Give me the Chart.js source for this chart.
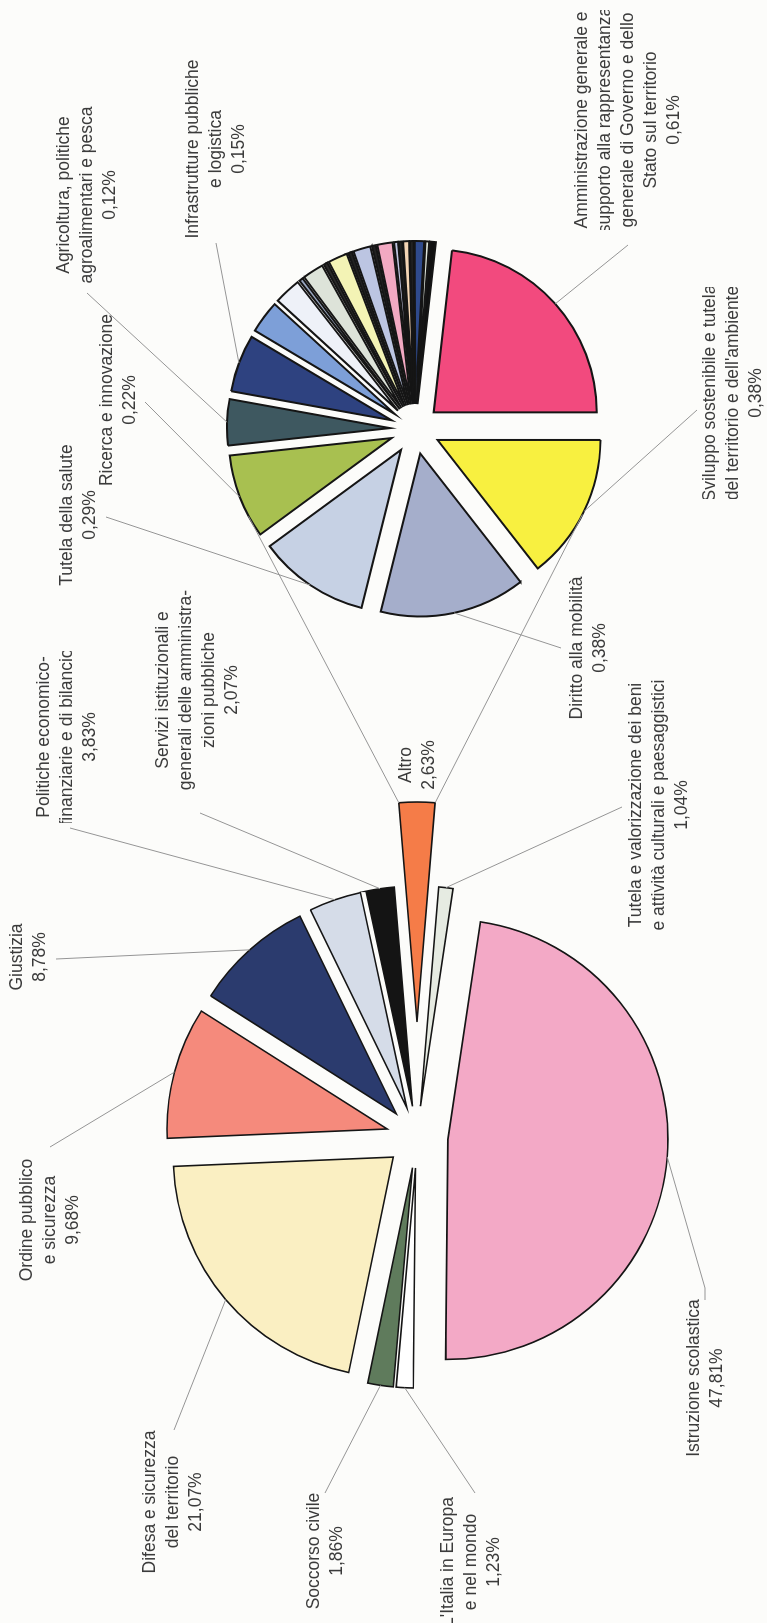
<!DOCTYPE html>
<html lang="it">
<head>
  <meta charset="UTF-8">
  <title>Ripartizione della spesa per missioni</title>
  <script src="https://cdn.jsdelivr.net/npm/chart.js"></script>
  <style>
    html, body { margin: 0; padding: 0; background: #fcfcfa; }
    body { width: 767px; height: 1623px; overflow: hidden; position: relative; }
    /* il grafico originale e' ruotato di 90 gradi */
    #frame {
      position: absolute; left: 0; top: 0;
      width: 1623px; height: 767px;
      transform-origin: 0 0;
      transform: translate(0, 1623px) rotate(-90deg);
    }
    #frame canvas { position: absolute; left: 0; top: 0; }
  </style>
</head>
<body>
<div id="frame">
  <canvas id="torta" width="1623" height="767"></canvas>
  <canvas id="altro" width="1623" height="767"></canvas>
</div>

<script>
  // torta principale (valori in %)
  const mainLabels = [
    ['Altro'],
    ['Tutela e valorizzazione dei beni', 'e attività culturali e paesaggistici'],
    ['Istruzione scolastica'],
    ["L'Italia in Europa", 'e nel mondo'],
    ['Soccorso civile'],
    ['Difesa e sicurezza', 'del territorio'],
    ['Ordine pubblico', 'e sicurezza'],
    ['Giustizia'],
    ['Politiche economico-', 'finanziarie e di bilancio'],
    ['Servizi istituzionali e', 'generali delle amministra-', 'zioni pubbliche']
  ];
  const mainValues = [2.63, 1.04, 47.81, 1.23, 1.86, 21.07, 9.68, 8.78, 3.83, 2.07];

  // dettaglio della fetta "Altro" (le fette piccole non hanno etichetta)
  const altroLabels = [
    ['Amministrazione generale e', 'supporto alla rappresentanza', 'generale di Governo e dello', 'Stato sul territorio'],
    ['Sviluppo sostenibile e tutela', "del territorio e dell'ambiente"],
    ['Diritto alla mobilità'],
    ['Tutela della salute'],
    ['Ricerca e innovazione'],
    ['Agricoltura, politiche', 'agroalimentari e pesca'],
    ['Infrastrutture pubbliche', 'e logistica'],
    [], [], [], [], [], [], [], [], [], [], [], [], [], [], [], [], []
  ];
  const altroValues = [0.61, 0.38, 0.38, 0.29, 0.22, 0.12, 0.15,
    0.085, 0.07, 0.01, 0.055, 0.01, 0.05, 0.01, 0.045, 0.01, 0.04, 0.01, 0.01, 0.015, 0.01, 0.025, 0.01, 0.015];

  const mainColors = ['#f57c48', '#e6ebe2', '#f3a9c6', '#ffffff', '#5f7b5c',
    '#faefc2', '#f58a7c', '#2b3b6e', '#d5dce8', '#141414'];
  const altroColors = ['#f24a7e', '#f8f040', '#a5aecb', '#c6d1e4', '#a8c050', '#3e5860', '#2e4280',
    '#7d9fd8', '#eef1f8', '#9aa7c0', '#dde3d9', '#2b2b2b', '#f3f3b5', '#222222', '#bcc5e2', '#222222',
    '#f2a9c2', '#c0c4e0', '#222222', '#f4d5b5', '#222222', '#2f4a8c', '#dfe6dd', '#111111'];

  // distanza di esplosione delle fette
  const mainDist = mainValues.map((v, i) => i === 0 ? 115 : 31);
  const altroDist = altroValues.map(() => 25);

  const FONT = '17.5px "Liberation Sans", Arial, sans-serif';
  const LINE = 23;
  const TEXT = '#3b3b3b';
  const LEADER = '#959595';

  // posizione delle etichette (x = centro riga, y = prima riga; ax/ay = inizio linea guida)
  const mainPos = [
    { x: 858, y: 406 },
    { x: 818, y: 636, ax: 816, ay: 622 },
    { x: 245, y: 694, ax: 323, ay: 705, bx: 335, by: 705 },
    { x: 61, y: 448, ax: 130, ay: 475 },
    { x: 72, y: 314, ax: 130, ay: 325 },
    { x: 121, y: 150, ax: 193, ay: 174 },
    { x: 403, y: 27, ax: 476, ay: 50 },
    { x: 666, y: 17, ax: 664, ay: 56 },
    { x: 886, y: 44, w: 172, ax: 795, ay: 70 },
    { x: 933, y: 163, ax: 810, ay: 200 }
  ];
  const altroPos = [
    { x: 1503, y: 582, w: 220, ax: 1378, ay: 628 },
    { x: 1230, y: 710, w: 212, ax: 1213, ay: 697 },
    { x: 975, y: 577, ax: 975, ay: 561 },
    { x: 1108, y: 67, ax: 1106, ay: 106 },
    { x: 1223, y: 107, ax: 1221, ay: 145 },
    { x: 1428, y: 64, ax: 1330, ay: 87 },
    { x: 1474, y: 193, ax: 1380, ay: 216 }
  ];

  function pct(v) {
    return v.toFixed(2).replace('.', ',') + '%';
  }

  function bordo(chart, i, dist) {
    const arc = chart.getDatasetMeta(0).data[i];
    const mid = (arc.startAngle + arc.endAngle) / 2;
    const r = arc.outerRadius + dist;
    return { x: arc.x + Math.cos(mid) * r, y: arc.y + Math.sin(mid) * r };
  }

  const esploso = {
    id: 'esploso',
    beforeDatasetDraw(chart, args, opts) {
      const ctx = chart.ctx;
      args.meta.data.forEach((arc, i) => {
        const d = opts.dist[i] || 0;
        const mid = (arc.startAngle + arc.endAngle) / 2;
        ctx.save();
        ctx.translate(Math.cos(mid) * d, Math.sin(mid) * d);
        arc.draw(ctx, chart.chartArea);
        ctx.restore();
      });
      return false;
    }
  };

  const etichette = {
    id: 'etichette',
    afterDraw(chart, args, opts) {
      const ctx = chart.ctx;
      const values = chart.data.datasets[0].data;
      const labels = chart.data.labels;
      ctx.save();
      ctx.font = FONT;
      ctx.fillStyle = TEXT;
      ctx.textAlign = 'center';
      ctx.textBaseline = 'middle';
      opts.pos.forEach((p, i) => {
        if (!p) return;
        const lines = labels[i].concat(pct(values[i]));
        if (p.ax !== undefined) {
          const end = bordo(chart, i, opts.dist[i]);
          ctx.beginPath();
          ctx.moveTo(p.ax, p.ay);
          if (p.bx !== undefined) ctx.lineTo(p.bx, p.by);
          ctx.lineTo(end.x, end.y);
          ctx.strokeStyle = LEADER;
          ctx.lineWidth = 1;
          ctx.stroke();
        }
        ctx.save();
        if (p.w) {
          ctx.beginPath();
          ctx.rect(p.x - p.w / 2, p.y - LINE, p.w, LINE * (lines.length + 1));
          ctx.clip();
        }
        lines.forEach((t, k) => ctx.fillText(t, p.x, p.y + k * LINE));
        ctx.restore();
      });
      ctx.restore();
    }
  };

  // linee che uniscono la fetta "Altro" alla seconda torta
  const collegamento = {
    id: 'collegamento',
    afterDraw(chart) {
      const ctx = chart.ctx;
      const arc = torta.getDatasetMeta(0).data[0];
      const mid = (arc.startAngle + arc.endAngle) / 2;
      const cx = arc.x + Math.cos(mid) * mainDist[0];
      const cy = arc.y + Math.sin(mid) * mainDist[0];
      const sec = chart.getDatasetMeta(0).data[0];
      const rho = sec.outerRadius + altroDist[0];
      ctx.save();
      ctx.beginPath();
      [[arc.startAngle, -1], [arc.endAngle, 1]].forEach(([a, s]) => {
        const px = cx + Math.cos(a) * arc.outerRadius;
        const py = cy + Math.sin(a) * arc.outerRadius;
        const dx = sec.x - px, dy = sec.y - py;
        const dd = Math.hypot(dx, dy);
        const phi = Math.atan2(dy, dx) + s * Math.asin(rho / dd);
        const L = Math.sqrt(dd * dd - rho * rho);
        ctx.moveTo(px, py);
        ctx.lineTo(px + Math.cos(phi) * L, py + Math.sin(phi) * L);
      });
      ctx.strokeStyle = LEADER;
      ctx.lineWidth = 1;
      ctx.stroke();
      ctx.restore();
    }
  };

  const torta = new Chart(document.getElementById('torta'), {
    type: 'pie',
    data: {
      labels: mainLabels,
      datasets: [{
        data: mainValues,
        backgroundColor: mainColors,
        borderColor: '#151515',
        borderWidth: 1.6,
        borderJoinStyle: 'miter',
        radius: 220
      }]
    },
    options: {
      responsive: false,
      animation: false,
      events: [],
      rotation: 90 - mainValues[0] * 1.8,
      layout: { padding: { left: 0, right: 651, top: 67, bottom: 0 } },
      plugins: {
        legend: { display: false },
        tooltip: { enabled: false },
        esploso: { dist: mainDist },
        etichette: { pos: mainPos, dist: mainDist }
      }
    },
    plugins: [esploso, etichette]
  });

  new Chart(document.getElementById('altro'), {
    type: 'pie',
    data: {
      labels: altroLabels,
      datasets: [{
        data: altroValues,
        backgroundColor: altroColors,
        borderColor: '#151515',
        borderWidth: 2,
        borderJoinStyle: 'miter',
        radius: 163
      }]
    },
    options: {
      responsive: false,
      animation: false,
      events: [],
      rotation: 96.5,
      layout: { padding: { left: 765, right: 0, top: 63, bottom: 0 } },
      plugins: {
        legend: { display: false },
        tooltip: { enabled: false },
        esploso: { dist: altroDist },
        etichette: { pos: altroPos, dist: altroDist }
      }
    },
    plugins: [esploso, etichette, collegamento]
  });
</script>
</body>
</html>
